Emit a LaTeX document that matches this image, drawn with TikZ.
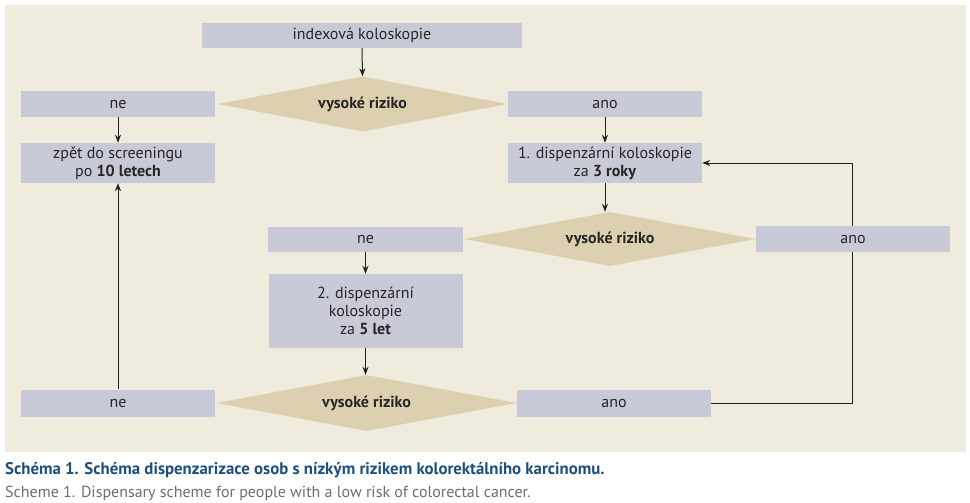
\documentclass[tikz,border=0pt]{standalone}
\usepackage{fontspec}
\setmainfont{PT Sans}
\usetikzlibrary{shapes.geometric,arrows.meta}
\definecolor{panelbg}{HTML}{EFEBDD}
\definecolor{boxfill}{HTML}{C8CAD8}
\definecolor{diafill}{HTML}{DDD0B0}
\definecolor{capblue}{HTML}{1D4F7C}
\definecolor{capgray}{HTML}{6E6E6E}
\definecolor{linecol}{HTML}{222222}
\tikzset{
  flowbox/.style={rectangle, fill=boxfill, inner sep=0pt, align=center, text=black!85,
    font=\fontsize{16}{18}\selectfont},
  riskdia/.style={diamond, fill=diafill, inner sep=0pt, aspect=6,
    font=\fontsize{16}{18}\selectfont\bfseries, text=black!85},
  conn/.style={draw=linecol, line width=1pt, -{Stealth[length=8pt,width=6pt]}},
  plainconn/.style={draw=linecol, line width=1pt}
}
\begin{document}
\begin{tikzpicture}[x=1pt,y=-1pt]
\useasboundingbox (0,0) rectangle (970,503);
\fill[panelbg] (5,5) rectangle (966,452);
% boxes
\node[flowbox, minimum width=320pt, minimum height=25pt] (idx) at (362,35.5) {indexová koloskopie};
\node[riskdia, minimum width=290pt, minimum height=55pt] (d1) at (362.5,104) {vysoké riziko};
\node[flowbox, minimum width=194pt, minimum height=26pt] (ne1) at (118,104) {ne};
\node[flowbox, minimum width=194pt, minimum height=26pt] (ano1) at (605,104) {ano};
\node[flowbox, minimum width=194pt, minimum height=40pt] (zpet) at (118,163) {zpět do screeningu\\po \textbf{10 letech}};
\node[flowbox, minimum width=194pt, minimum height=40pt] (disp1) at (605,163) {1. dispenzární koloskopie\\za \textbf{3 roky}};
\node[riskdia, minimum width=292pt, minimum height=54pt] (d2) at (610,239) {vysoké riziko};
\node[flowbox, minimum width=195pt, minimum height=25pt] (ne2) at (365.5,239.5) {ne};
\coordinate (c1) at (852,163);
\coordinate (c2) at (852,403);
\node[flowbox, minimum width=194pt, minimum height=74pt] (disp2) at (365.5,311) {2. dispenzární\\koloskopie\\za \textbf{5 let}};
\node[riskdia, minimum width=300pt, minimum height=56pt] (d3) at (366.5,403) {vysoké riziko};
\node[flowbox, minimum width=194pt, minimum height=27pt] (ne3) at (118,403) {ne};
\node[flowbox, minimum width=194pt, minimum height=27pt] (ano3) at (614,403) {ano};
% feedback line (behind ano2)
\draw[plainconn] (ano3.east) -- (c2) -- (c1);
\draw[conn] (c1) -- (disp1.east);
\node[flowbox, minimum width=194pt, minimum height=26pt] (ano2) at (853,239) {ano};
% arrows
\draw[conn] (idx.south) -- (d1.north);
\draw[conn] (ne1.south) -- (zpet.north);
\draw[conn] (ano1.south) -- (disp1.north);
\draw[conn] (disp1.south) -- ([xshift=-5pt]d2.north);
\draw[conn] (ne2.south) -- (disp2.north);
\draw[conn] (disp2.south) -- ([xshift=-1pt]d3.north);
\draw[conn] (ne3.north) -- (zpet.south);
% captions
\node[anchor=base west, inner sep=0pt, text=capblue, font=\fontsize{16.8}{19}\selectfont\bfseries] (cap1) at (5,474) {Schéma 1. Schéma dispenzarizace osob s nízkým rizikem kolorektálního karcinomu.};
\node[anchor=base west, inner sep=0pt, text=capgray, font=\fontsize{16}{19}\selectfont] (cap2) at (5,497) {Scheme 1. Dispensary scheme for people with a low risk of colorectal cancer.};
\end{tikzpicture}
\end{document}
